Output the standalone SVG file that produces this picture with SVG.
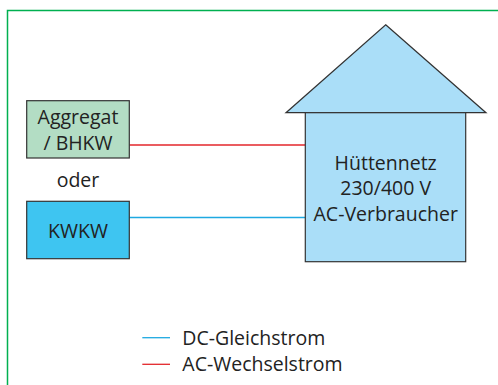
<svg xmlns="http://www.w3.org/2000/svg" width="498" height="385" viewBox="0 0 498 385">
  <style>
    .box { stroke: #333333; stroke-width: 1.2; }
    .lbl { font-family: "Open Sans", "Liberation Sans", sans-serif; font-size: 19.5px; fill: #222222; }
    .mid { text-anchor: middle; }
    .ac { stroke: #e3262b; stroke-width: 1.3; fill: none; }
    .dc { stroke: #1ea9e1; stroke-width: 1.3; fill: none; }
  </style>
  <rect width="498" height="385" fill="#ffffff"/>
  <!-- open frame: top and left edges -->
  <path d="M7.5 385 V10.5 H498" fill="none" stroke="#00b050" stroke-width="1.5"/>

  <g id="connectors">
    <line class="ac" x1="129.3" y1="145" x2="305.3" y2="145"/>
    <line class="dc" x1="129.3" y1="217.5" x2="305.3" y2="217.5"/>
  </g>

  <g id="aggregat">
    <rect class="box" x="26.7" y="100.7" width="102.6" height="57.3" fill="#b3ddc4"/>
    <text class="lbl mid" x="78" y="123.5">Aggregat</text>
    <text class="lbl mid" x="78" y="149.5">/ BHKW</text>
  </g>

  <g id="oder">
    <text class="lbl mid" x="78" y="187">oder</text>
  </g>

  <g id="kwkw">
    <rect class="box" x="26.7" y="201.3" width="102.6" height="57.4" fill="#3ec5f1"/>
    <text class="lbl mid" x="78" y="237.5">KWKW</text>
  </g>

  <g id="huettennetz">
    <polygon class="box" points="385.7,24.7 486,112.7 286,112.7" fill="#aadef8"/>
    <rect class="box" x="305.3" y="112.7" width="160.4" height="149" fill="#aadef8"/>
    <text class="lbl mid" x="385.7" y="169.5">Hüttennetz</text>
    <text class="lbl mid" x="385.7" y="195">230/400 V</text>
    <text class="lbl mid" x="385.7" y="220.5">AC-Verbraucher</text>
  </g>

  <g id="legende">
    <line class="dc" x1="142.3" y1="337.7" x2="170" y2="337.7"/>
    <text class="lbl" x="182.3" y="344.5">DC-Gleichstrom</text>
    <line class="ac" x1="142.3" y1="364.3" x2="170" y2="364.3"/>
    <text class="lbl" x="182.3" y="371">AC-Wechselstrom</text>
  </g>
</svg>
